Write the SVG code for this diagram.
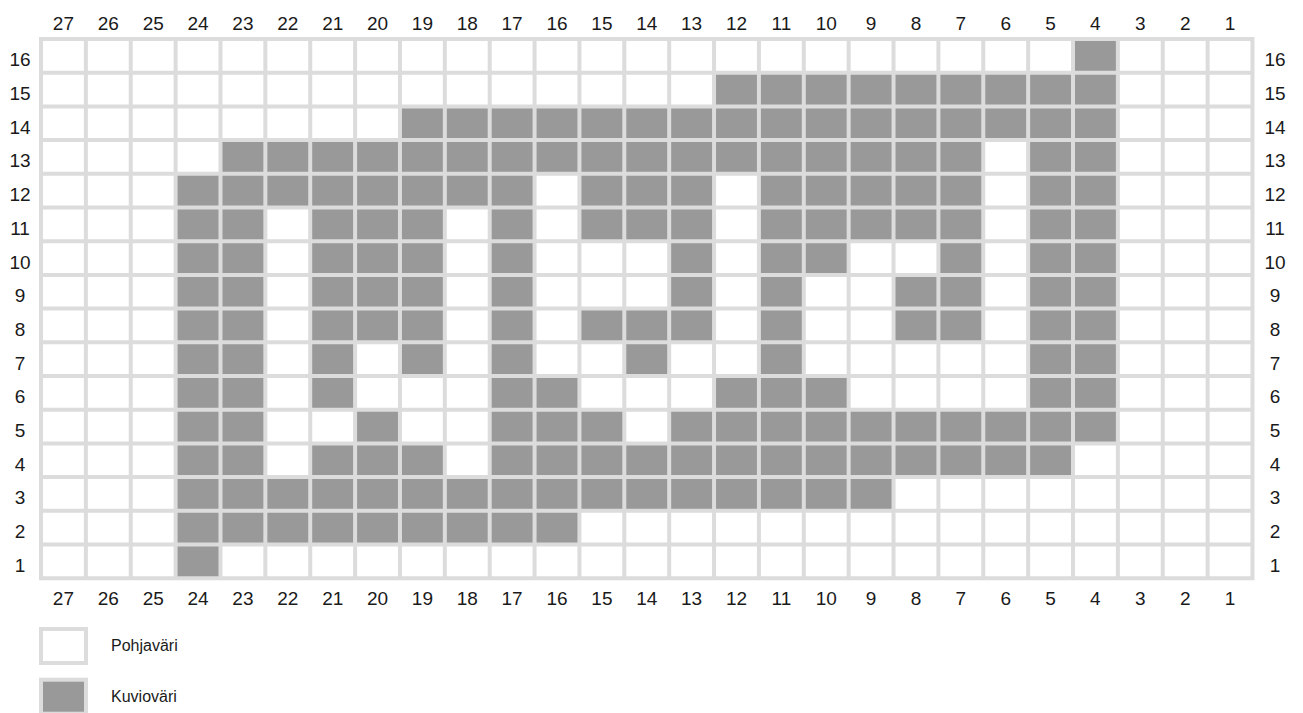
<svg xmlns="http://www.w3.org/2000/svg" width="1303" height="713" viewBox="0 0 1303 713">
<style>
.bg{fill:#ffffff}
.g{fill:#999999}
.ln{stroke:#dcdcdc;stroke-width:4;fill:none;stroke-linecap:square}
.n{font-family:"Liberation Sans",Arial,sans-serif;font-size:19px;fill:#1a1a1a;text-anchor:middle}
.lg{font-family:"Liberation Sans",Arial,sans-serif;font-size:16px;fill:#1a1a1a}
</style>
<rect x="0" y="0" width="1303" height="713" fill="#ffffff"/>
<g id="chart">
<rect class="bg" x="41" y="39" width="1211.49" height="539.2"/>
<g id="row16"><rect class="g" x="1073.01" y="39" width="44.87" height="33.7"/></g>
<g id="row15"><rect class="g" x="714.05" y="72.7" width="403.83" height="33.7"/></g>
<g id="row14"><rect class="g" x="399.96" y="106.4" width="717.92" height="33.7"/></g>
<g id="row13"><rect class="g" x="220.48" y="140.1" width="762.79" height="33.7"/><rect class="g" x="1028.14" y="140.1" width="89.74" height="33.7"/></g>
<g id="row12"><rect class="g" x="175.61" y="173.8" width="358.96" height="33.7"/><rect class="g" x="579.44" y="173.8" width="134.61" height="33.7"/><rect class="g" x="758.92" y="173.8" width="224.35" height="33.7"/><rect class="g" x="1028.14" y="173.8" width="89.74" height="33.7"/></g>
<g id="row11"><rect class="g" x="175.61" y="207.5" width="89.74" height="33.7"/><rect class="g" x="310.22" y="207.5" width="134.61" height="33.7"/><rect class="g" x="489.7" y="207.5" width="44.87" height="33.7"/><rect class="g" x="579.44" y="207.5" width="134.61" height="33.7"/><rect class="g" x="758.92" y="207.5" width="224.35" height="33.7"/><rect class="g" x="1028.14" y="207.5" width="89.74" height="33.7"/></g>
<g id="row10"><rect class="g" x="175.61" y="241.2" width="89.74" height="33.7"/><rect class="g" x="310.22" y="241.2" width="134.61" height="33.7"/><rect class="g" x="489.7" y="241.2" width="44.87" height="33.7"/><rect class="g" x="669.18" y="241.2" width="44.87" height="33.7"/><rect class="g" x="758.92" y="241.2" width="89.74" height="33.7"/><rect class="g" x="938.4" y="241.2" width="44.87" height="33.7"/><rect class="g" x="1028.14" y="241.2" width="89.74" height="33.7"/></g>
<g id="row9"><rect class="g" x="175.61" y="274.9" width="89.74" height="33.7"/><rect class="g" x="310.22" y="274.9" width="134.61" height="33.7"/><rect class="g" x="489.7" y="274.9" width="44.87" height="33.7"/><rect class="g" x="669.18" y="274.9" width="44.87" height="33.7"/><rect class="g" x="758.92" y="274.9" width="44.87" height="33.7"/><rect class="g" x="893.53" y="274.9" width="89.74" height="33.7"/><rect class="g" x="1028.14" y="274.9" width="89.74" height="33.7"/></g>
<g id="row8"><rect class="g" x="175.61" y="308.6" width="89.74" height="33.7"/><rect class="g" x="310.22" y="308.6" width="134.61" height="33.7"/><rect class="g" x="489.7" y="308.6" width="44.87" height="33.7"/><rect class="g" x="579.44" y="308.6" width="134.61" height="33.7"/><rect class="g" x="758.92" y="308.6" width="44.87" height="33.7"/><rect class="g" x="893.53" y="308.6" width="89.74" height="33.7"/><rect class="g" x="1028.14" y="308.6" width="89.74" height="33.7"/></g>
<g id="row7"><rect class="g" x="175.61" y="342.3" width="89.74" height="33.7"/><rect class="g" x="310.22" y="342.3" width="44.87" height="33.7"/><rect class="g" x="399.96" y="342.3" width="44.87" height="33.7"/><rect class="g" x="489.7" y="342.3" width="44.87" height="33.7"/><rect class="g" x="624.31" y="342.3" width="44.87" height="33.7"/><rect class="g" x="758.92" y="342.3" width="44.87" height="33.7"/><rect class="g" x="1028.14" y="342.3" width="89.74" height="33.7"/></g>
<g id="row6"><rect class="g" x="175.61" y="376" width="89.74" height="33.7"/><rect class="g" x="310.22" y="376" width="44.87" height="33.7"/><rect class="g" x="489.7" y="376" width="89.74" height="33.7"/><rect class="g" x="714.05" y="376" width="134.61" height="33.7"/><rect class="g" x="1028.14" y="376" width="89.74" height="33.7"/></g>
<g id="row5"><rect class="g" x="175.61" y="409.7" width="89.74" height="33.7"/><rect class="g" x="355.09" y="409.7" width="44.87" height="33.7"/><rect class="g" x="489.7" y="409.7" width="134.61" height="33.7"/><rect class="g" x="669.18" y="409.7" width="448.7" height="33.7"/></g>
<g id="row4"><rect class="g" x="175.61" y="443.4" width="89.74" height="33.7"/><rect class="g" x="310.22" y="443.4" width="134.61" height="33.7"/><rect class="g" x="489.7" y="443.4" width="583.31" height="33.7"/></g>
<g id="row3"><rect class="g" x="175.61" y="477.1" width="717.92" height="33.7"/></g>
<g id="row2"><rect class="g" x="175.61" y="510.8" width="403.83" height="33.7"/></g>
<g id="row1"><rect class="g" x="175.61" y="544.5" width="44.87" height="33.7"/></g>
<path id="gridlines" class="ln" d="M41 39V578.2M85.87 39V578.2M130.74 39V578.2M175.61 39V578.2M220.48 39V578.2M265.35 39V578.2M310.22 39V578.2M355.09 39V578.2M399.96 39V578.2M444.83 39V578.2M489.7 39V578.2M534.57 39V578.2M579.44 39V578.2M624.31 39V578.2M669.18 39V578.2M714.05 39V578.2M758.92 39V578.2M803.79 39V578.2M848.66 39V578.2M893.53 39V578.2M938.4 39V578.2M983.27 39V578.2M1028.14 39V578.2M1073.01 39V578.2M1117.88 39V578.2M1162.75 39V578.2M1207.62 39V578.2M1252.49 39V578.2M41 39H1252.49M41 72.7H1252.49M41 106.4H1252.49M41 140.1H1252.49M41 173.8H1252.49M41 207.5H1252.49M41 241.2H1252.49M41 274.9H1252.49M41 308.6H1252.49M41 342.3H1252.49M41 376H1252.49M41 409.7H1252.49M41 443.4H1252.49M41 477.1H1252.49M41 510.8H1252.49M41 544.5H1252.49M41 578.2H1252.49"/>
</g>
<g id="top-labels" class="n">
<text x="63.4" y="30">27</text><text x="108.3" y="30">26</text><text x="153.2" y="30">25</text><text x="198" y="30">24</text><text x="242.9" y="30">23</text><text x="287.8" y="30">22</text><text x="332.7" y="30">21</text><text x="377.5" y="30">20</text><text x="422.4" y="30">19</text><text x="467.3" y="30">18</text><text x="512.1" y="30">17</text><text x="557" y="30">16</text><text x="601.9" y="30">15</text><text x="646.7" y="30">14</text><text x="691.6" y="30">13</text><text x="736.5" y="30">12</text><text x="781.4" y="30">11</text><text x="826.2" y="30">10</text><text x="871.1" y="30">9</text><text x="916" y="30">8</text><text x="960.8" y="30">7</text><text x="1005.7" y="30">6</text><text x="1050.6" y="30">5</text><text x="1095.4" y="30">4</text><text x="1140.3" y="30">3</text><text x="1185.2" y="30">2</text><text x="1230.1" y="30">1</text>
</g>
<g id="bottom-labels" class="n">
<text x="63.4" y="605">27</text><text x="108.3" y="605">26</text><text x="153.2" y="605">25</text><text x="198" y="605">24</text><text x="242.9" y="605">23</text><text x="287.8" y="605">22</text><text x="332.7" y="605">21</text><text x="377.5" y="605">20</text><text x="422.4" y="605">19</text><text x="467.3" y="605">18</text><text x="512.1" y="605">17</text><text x="557" y="605">16</text><text x="601.9" y="605">15</text><text x="646.7" y="605">14</text><text x="691.6" y="605">13</text><text x="736.5" y="605">12</text><text x="781.4" y="605">11</text><text x="826.2" y="605">10</text><text x="871.1" y="605">9</text><text x="916" y="605">8</text><text x="960.8" y="605">7</text><text x="1005.7" y="605">6</text><text x="1050.6" y="605">5</text><text x="1095.4" y="605">4</text><text x="1140.3" y="605">3</text><text x="1185.2" y="605">2</text><text x="1230.1" y="605">1</text>
</g>
<g id="left-labels" class="n">
<text x="20" y="66.35">16</text><text x="20" y="100.05">15</text><text x="20" y="133.75">14</text><text x="20" y="167.45">13</text><text x="20" y="201.15">12</text><text x="20" y="234.85">11</text><text x="20" y="268.55">10</text><text x="20" y="302.25">9</text><text x="20" y="335.95">8</text><text x="20" y="369.65">7</text><text x="20" y="403.35">6</text><text x="20" y="437.05">5</text><text x="20" y="470.75">4</text><text x="20" y="504.45">3</text><text x="20" y="538.15">2</text><text x="20" y="571.85">1</text>
</g>
<g id="right-labels" class="n">
<text x="1275" y="66.35">16</text><text x="1275" y="100.05">15</text><text x="1275" y="133.75">14</text><text x="1275" y="167.45">13</text><text x="1275" y="201.15">12</text><text x="1275" y="234.85">11</text><text x="1275" y="268.55">10</text><text x="1275" y="302.25">9</text><text x="1275" y="335.95">8</text><text x="1275" y="369.65">7</text><text x="1275" y="403.35">6</text><text x="1275" y="437.05">5</text><text x="1275" y="470.75">4</text><text x="1275" y="504.45">3</text><text x="1275" y="538.15">2</text><text x="1275" y="571.85">1</text>
</g>
<g id="legend-pohjavari">
<rect x="41" y="629" width="45" height="34" fill="#ffffff" stroke="#dcdcdc" stroke-width="4"/>
<text class="lg" x="111" y="650.7">Pohjaväri</text>
</g>
<g id="legend-kuviovari">
<rect x="41" y="679.7" width="45" height="34" fill="#999999" stroke="#dcdcdc" stroke-width="4"/>
<text class="lg" x="111" y="701.7">Kuvioväri</text>
</g>
</svg>
